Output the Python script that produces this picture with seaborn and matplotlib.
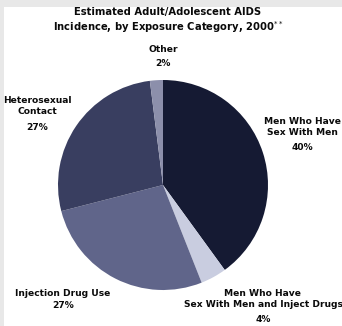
import matplotlib
matplotlib.use("Agg")
import matplotlib.pyplot as plt
import seaborn as sns
from matplotlib.patches import Rectangle

sns.set_theme(style="white")
plt.rcParams["font.family"] = ["DejaVu Sans"]

# Exposure categories, clockwise from 12 o'clock
categories = [
    "Men Who Have\nSex With Men",
    "Men Who Have\nSex With Men and Inject Drugs",
    "Injection Drug Use",
    "Heterosexual\nContact",
    "Other",
]
shares = [40, 4, 27, 27, 2]
colors = ["#151a33", "#c9cde0", "#60658a", "#393e60", "#8c8fab"]
title = "Estimated Adult/Adolescent AIDS\nIncidence, by Exposure Category, 2000$^{**}$"

W, H = 342, 326
fig = plt.figure(figsize=(W / 100, H / 100), dpi=100)
fig.patch.set_facecolor("#e8e8e8")
ax = fig.add_axes([0, 0, 1, 1])

# white panel inside the light frame
ax.add_patch(Rectangle((4, 0), W - 4, H - 7, facecolor="white", edgecolor="none", zorder=0))

cx, cy, r = 163, H - 185, 105
ax.pie(shares, colors=colors, startangle=90, counterclock=False,
       center=(cx, cy), radius=r, frame=True,
       wedgeprops=dict(linewidth=0, edgecolor="none"))
ax.set_xlim(0, W)
ax.set_ylim(0, H)
ax.set_aspect("equal")
ax.axis("off")

fs = 6.6
tkw = dict(ha="center", va="center", fontsize=fs, fontweight="bold",
           color="#0a0a0a", linespacing=1.2)

ax.text(168, H - 21, title, **{**tkw, "fontsize": 7.2})

# slice labels: name above, percentage below
label_pos = [(302, H - 127), (263, H - 299), (63, H - 293), (37, H - 106), (163, H - 50)]
label_pct = [(302, H - 148), (263, H - 320), (63, H - 305), (37, H - 128), (163, H - 63)]
for name, val, (x, y), (px, py) in zip(categories, shares, label_pos, label_pct):
    ax.text(x, y, name, **tkw)
    ax.text(px, py, f"{val}%", **tkw)

fig.savefig("out.png", dpi=100, facecolor=fig.get_facecolor())
